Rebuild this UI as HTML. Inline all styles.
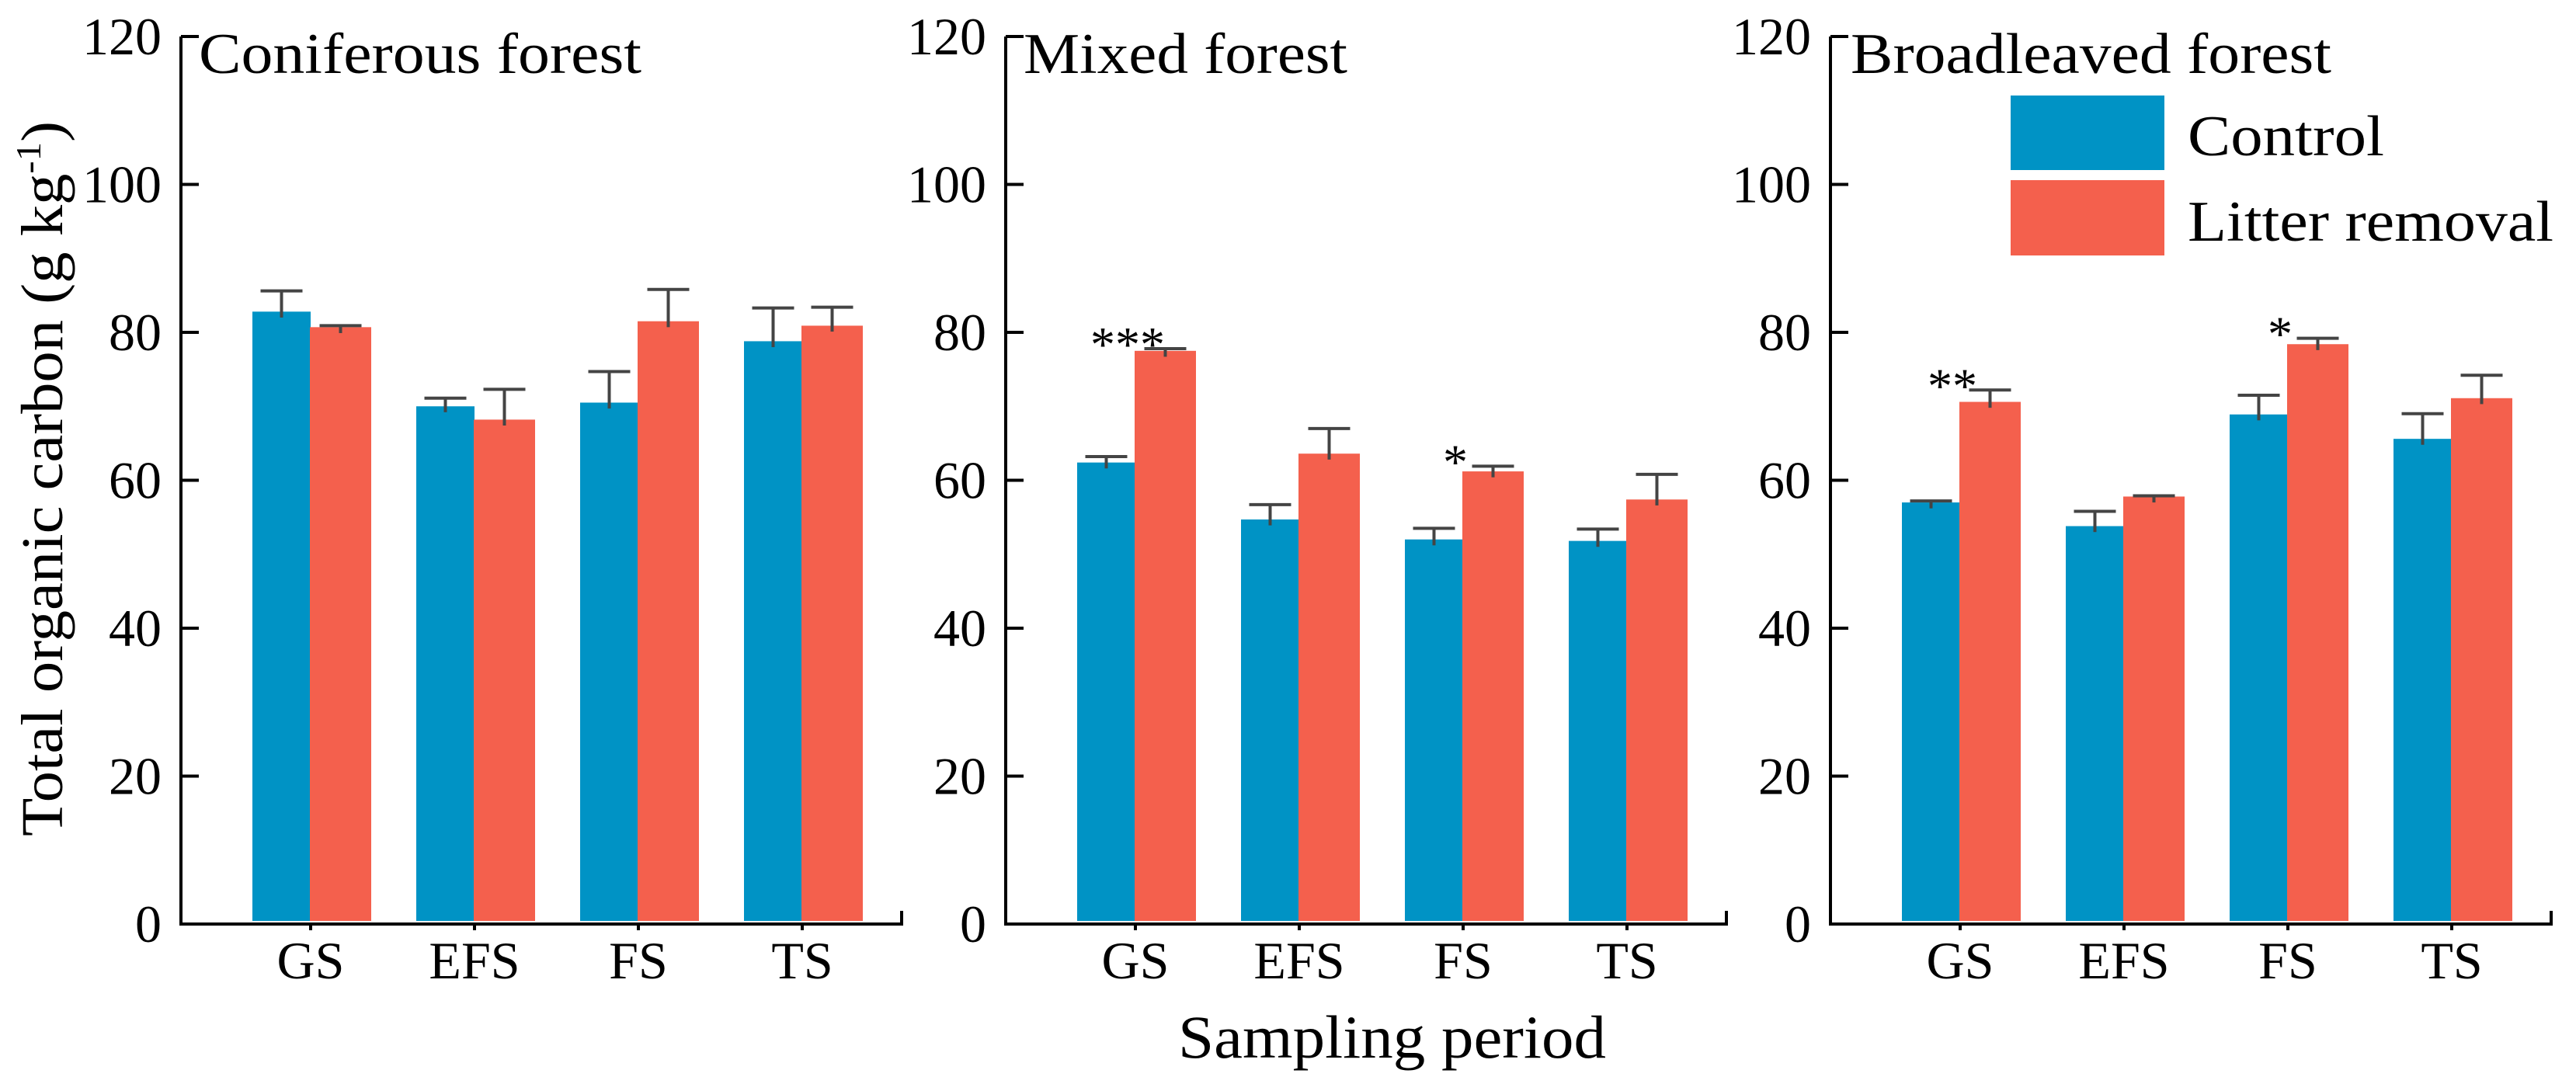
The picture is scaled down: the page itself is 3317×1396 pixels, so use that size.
<!DOCTYPE html>
<html><head><meta charset="utf-8"><style>
html,body{margin:0;padding:0;background:#fff;}
svg{display:block;}
text{font-family:"Liberation Serif",serif;fill:#000;}
</style></head><body>
<svg id="chart" width="3317" height="1396" viewBox="0 0 3317 1396" xmlns="http://www.w3.org/2000/svg">
<g id="panels"></g>
<text x="1517" y="1362" font-size="78" textLength="551" lengthAdjust="spacingAndGlyphs">Sampling period</text>
<text transform="translate(80,1077) rotate(-90)" font-size="76" textLength="921" lengthAdjust="spacingAndGlyphs">Total organic carbon (g kg<tspan dy="-28" font-size="46">-1</tspan><tspan dy="28">)</tspan></text>
<g>
<rect x="2589" y="123" width="198" height="96" fill="#0093C5"/>
<text x="2817" y="200" font-size="74" textLength="253" lengthAdjust="spacingAndGlyphs">Control</text>
<rect x="2589" y="232" width="198" height="97" fill="#F4604D"/>
<text x="2817" y="310" font-size="74" textLength="471" lengthAdjust="spacingAndGlyphs">Litter removal</text>
</g>
</svg>
<script>
const categories = ["GS","EFS","FS","TS"];
const panelTitles = ["Coniferous forest","Mixed forest","Broadleaved forest"];
const controlValues = [[82.8,70.0,70.5,78.8],[62.4,54.7,52.0,51.8],[57.0,53.8,68.9,65.6]];
const controlErrors = [[2.8,1.1,4.2,4.5],[0.8,2.0,1.5,1.6],[0.2,2.0,2.6,3.4]];
const removalValues = [[80.7,68.2,81.5,80.9],[77.5,63.6,61.2,57.4],[70.6,57.8,78.4,71.1]];
const removalErrors = [[0.2,4.1,4.3,2.5],[0.3,3.4,0.7,3.4],[1.6,0.1,0.8,3.1]];
const stars = [["","","",""],["***","","*",""],["**","","*",""]];
const yTicks = [0,20,40,60,80,100,120];

const NS = "http://www.w3.org/2000/svg";
const root = document.getElementById("panels");
const Y0 = 1190, PX = 9.525;
function yScale(v){ return Y0 - v*PX; }
function mk(tag, attrs, parent){
  const e = document.createElementNS(NS, tag);
  for (const k in attrs) e.setAttribute(k, attrs[k]);
  parent.appendChild(e); return e;
}
const panelX = [233,1295,2357];
const titleW = [570,417,619];
function xScale(p, i){ return panelX[p] + 167 + i*211; }

panelTitles.forEach((title, p) => {
  const ax = panelX[p];
  const g = mk("g", {}, root);
  
  
  categories.forEach((c, i) => {
    const cx = xScale(p, i);
    const vals = [controlValues[p][i], removalValues[p][i]];
    const errs = [controlErrors[p][i], removalErrors[p][i]];
    const xs = [cx-75, cx-1];
    const ws = [75, 79];
    const cols = ["#0093C5","#F4604D"];
    const names = ["control","litter-removal"];
    for (let s=0; s<2; s++){
      const b = mk("rect", {x: xs[s], y: yScale(vals[s]), width: ws[s], height: Y0-4-yScale(vals[s]), fill: cols[s]}, g);
      
      
    }
    for (let s=0; s<2; s++){
      const ex = xs[s] + ws[s]/2;
      const top = yScale(vals[s]+errs[s]);
      const eb = mk("g", {stroke:"#444", "stroke-width":4}, g);
      
      
      mk("line", {x1:ex, x2:ex, y1:yScale(vals[s]-0.8), y2:top}, eb);
      mk("line", {x1:ex-27, x2:ex+27, y1:top, y2:top}, eb);
    }
    if (stars[p][i]){
      const topR = yScale(removalValues[p][i]+removalErrors[p][i]);
      const st = mk("text", {x: cx-10, y: topR-16+32, "font-size":64, "text-anchor":"middle"}, g);
      st.textContent = stars[p][i];
      
      
    }
    const tl = mk("text", {x: cx, y: 1260, "font-size":68, "text-anchor":"middle"}, g);
    tl.textContent = c;
    
    
    mk("line", {x1:cx, x2:cx, y1:Y0, y2:Y0+8, stroke:"#000", "stroke-width":4}, g);
  });
  const axes = mk("g", {stroke:"#000", "stroke-width":4, fill:"none"}, g);
  
  
  mk("path", {d:`M${ax} ${yScale(120)} V${Y0} H${ax+928} V${Y0-17}`}, axes);
  yTicks.forEach(t => {
    mk("line", {x1:ax, x2:ax+23, y1:yScale(t), y2:yScale(t)}, axes);
    const lab = mk("text", {x: ax-25, y: yScale(t)+23, "font-size":68, "text-anchor":"end"}, g);
    lab.textContent = t;
    
    
  });
  const tt = mk("text", {x: ax+23+ (p===2?3:0), y: 94, "font-size":74, textLength: titleW[p], lengthAdjust:"spacingAndGlyphs"}, g);
  tt.textContent = title;
  
  
});
</script>
</body></html>
